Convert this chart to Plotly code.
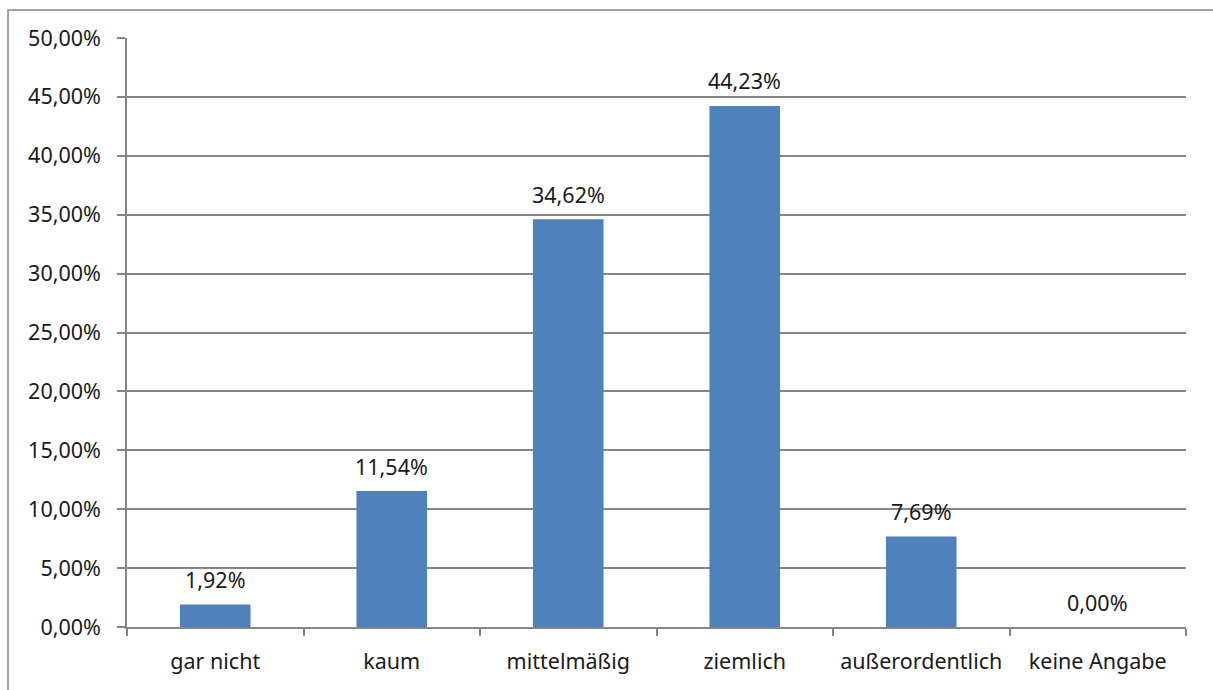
import plotly.graph_objects as go

categories = ["gar nicht", "kaum", "mittelmäßig", "ziemlich", "außerordentlich", "keine Angabe"]
shares = [0.0192, 0.1154, 0.3462, 0.4423, 0.0769, 0.0]
y_ticks = [0.0, 0.05, 0.10, 0.15, 0.20, 0.25, 0.30, 0.35, 0.40, 0.45, 0.50]

W, H = 1213, 690
L, R, T, B = 127, 27, 38, 63
FONT = "Noto Sans"
GREY = "#868686"
TEXT = "#1a1a1a"
FS = 21.5

fig = go.Figure(
    go.Bar(
        x=categories,
        y=shares,
        width=0.4,
        marker=dict(color="#4F81BD", line=dict(width=0)),
        hoverinfo="x+y",
    )
)

# value labels sit a fixed distance above each bar top
for cat, val in zip(categories, shares):
    fig.add_annotation(
        x=cat,
        y=val,
        text=f"{val * 100:.2f}%".replace(".", ","),
        showarrow=False,
        yanchor="middle",
        yshift=25,
        font=dict(family=FONT, size=FS, color=TEXT),
    )

plot_w = W - L - R
plot_h = H - T - B

fig.update_layout(
    width=W,
    height=H,
    margin=dict(l=L, r=R, t=T, b=B, pad=0),
    paper_bgcolor="white",
    plot_bgcolor="white",
    separators=",.",
    showlegend=False,
    font=dict(family=FONT, size=FS, color=TEXT),
    xaxis=dict(
        type="category",
        tickson="boundaries",
        ticks="outside",
        ticklen=7,
        tickcolor=GREY,
        tickwidth=1.5,
        showline=True,
        linecolor=GREY,
        linewidth=1.5,
        showgrid=False,
        tickfont=dict(family=FONT, size=FS, color=TEXT),
        ticklabelstandoff=14,
    ),
    yaxis=dict(
        range=[0, 0.5],
        tickvals=y_ticks,
        tickformat=".2%",
        ticks="outside",
        ticklen=8,
        tickcolor=GREY,
        tickwidth=1.5,
        showline=True,
        linecolor=GREY,
        linewidth=1.5,
        showgrid=True,
        gridcolor=GREY,
        gridwidth=1.5,
        zeroline=False,
        tickfont=dict(family=FONT, size=FS, color=TEXT),
        ticklabelstandoff=12,
    ),
    shapes=[
        dict(
            type="rect",
            xref="paper",
            yref="paper",
            x0=(8 - L) / plot_w,
            x1=(W + 10 - L) / plot_w,
            y0=-(H + 10 - (H - B)) / plot_h,
            y1=(H - B - 10) / plot_h,
            line=dict(color=GREY, width=1.5),
            layer="below",
        )
    ],
)

fig.write_html("out.html")
